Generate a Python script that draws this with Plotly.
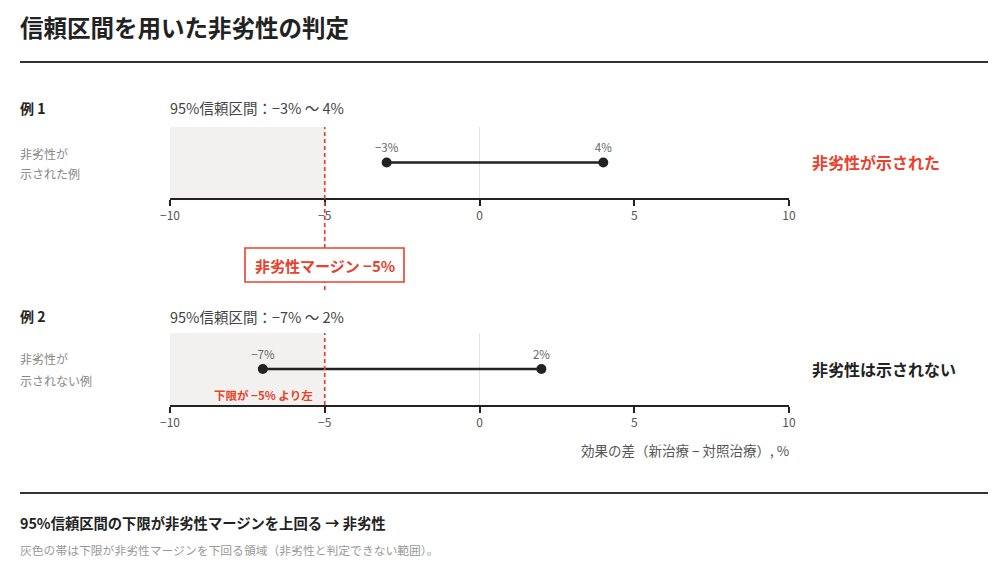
import plotly.graph_objects as go

# ---- data ----
examples = ["例 1", "例 2"]
ci_low = [-3, -7]
ci_high = [4, 2]
margin_value = -5
tick_vals = [-10, -5, 0, 5, 10]
ci_titles = ["95%信頼区間：−3% 〜 4%", "95%信頼区間：−7% 〜 2%"]
side_line1 = ["非劣性が", "非劣性が"]
side_line2 = ["示された例", "示されない例"]
verdicts = ["非劣性が示された", "非劣性は示されない"]
low_labels = ["−3%", "−7%"]
high_labels = ["4%", "2%"]

W, H = 1000, 565
RED = "#e8412c"
DARK = "#222222"
FONT = "Noto Sans CJK JP"


def py(pix):
    return 1 - pix / H


def px(pix):
    return pix / W


x_left, x_right = 170, 789
rows = [(127, 198), (333, 405)]

fig = go.Figure()

for i in range(2):
    xa = "x" if i == 0 else "x2"
    ya = "y" if i == 0 else "y2"
    fig.add_trace(go.Scatter(
        x=[ci_low[i], ci_high[i]], y=[0.5, 0.5],
        mode="lines+markers+text",
        line=dict(color=DARK, width=2.5),
        marker=dict(color=DARK, size=10),
        text=[low_labels[i], high_labels[i]],
        textposition="top center",
        textfont=dict(family=FONT, size=11.5, color="#666666"),
        xaxis=xa, yaxis=ya, showlegend=False, hoverinfo="skip", cliponaxis=False,
    ))

axis_common = dict(
    range=[-10, 10], tickvals=tick_vals, showgrid=False, zeroline=False,
    showline=True, linecolor=DARK, linewidth=2, ticks="outside", ticklen=6,
    tickwidth=1.5, tickcolor=DARK, fixedrange=True, automargin=False,
    tickfont=dict(family=FONT, size=12, color="#555555"),
    domain=[px(x_left), px(x_right)],
)
yaxis_common = dict(range=[0, 1], visible=False, fixedrange=True, automargin=False)

fig.update_layout(
    width=W, height=H,
    margin=dict(l=0, r=0, t=0, b=0, pad=0, autoexpand=False),
    paper_bgcolor="white", plot_bgcolor="white",
    font=dict(family=FONT, color=DARK),
    xaxis=dict(axis_common, anchor="y"),
    yaxis=dict(yaxis_common, domain=[py(rows[0][1]), py(rows[0][0])], anchor="x"),
    xaxis2=dict(axis_common, anchor="y2"),
    yaxis2=dict(yaxis_common, domain=[py(rows[1][1]), py(rows[1][0])], anchor="x2"),
)

shapes = []
for i in range(2):
    xr = "x" if i == 0 else "x2"
    yr = "y" if i == 0 else "y2"
    shapes.append(dict(type="rect", xref=xr, yref=yr, x0=-10, x1=margin_value, y0=0, y1=1,
                       fillcolor="#f2f1ef", line=dict(width=0), layer="below"))
    shapes.append(dict(type="line", xref=xr, yref=yr, x0=0, x1=0, y0=0, y1=1,
                       line=dict(color="#e3e3e3", width=1), layer="below"))

shapes.append(dict(type="line", xref="x", yref="paper", x0=margin_value, x1=margin_value,
                   y0=py(290), y1=py(127), line=dict(color=RED, width=1.7, dash="4px,3px")))
shapes.append(dict(type="line", xref="x2", yref="paper", x0=margin_value, x1=margin_value,
                   y0=py(405), y1=py(333), line=dict(color=RED, width=1.7, dash="4px,3px")))
shapes.append(dict(type="rect", xref="paper", yref="paper", x0=px(245), x1=px(404),
                   y0=py(282), y1=py(248), fillcolor="white", line=dict(color=RED, width=1.6)))
shapes.append(dict(type="line", xref="paper", yref="paper", x0=px(20), x1=px(988),
                   y0=py(62), y1=py(62), line=dict(color="#333333", width=1.8)))
shapes.append(dict(type="line", xref="paper", yref="paper", x0=px(20), x1=px(988),
                   y0=py(493), y1=py(493), line=dict(color="#333333", width=1.8)))
fig.update_layout(shapes=shapes)


def ann(text, x, y, size, color, bold=False, xanchor="left", yanchor="middle"):
    t = f"<b>{text}</b>" if bold else text
    return dict(text=t, x=x, y=py(y), xref="paper", yref="paper", showarrow=False,
                xanchor=xanchor, yanchor=yanchor, borderpad=0, borderwidth=0,
                font=dict(family=FONT, size=size, color=color))


annotations = [
    ann("信頼区間を用いた非劣性の判定", px(20), 27, 23.5, DARK, bold=True),
    ann("非劣性マージン −5%", px(325), 265, 15, RED, bold=True, xanchor="center"),
    ann("下限が −5% より左", px(313), 395, 11.5, RED, bold=True, xanchor="right"),
    ann("効果の差（新治療 − 対照治療）, %", px(789), 450, 13.5, "#555555", xanchor="right"),
    ann("95%信頼区間の下限が非劣性マージンを上回る → 非劣性", px(20), 522, 14.3, DARK, bold=True),
    ann("灰色の帯は下限が非劣性マージンを下回る領域（非劣性と判定できない範囲）。",
        px(20), 549, 11.8, "#999999"),
]
row_label_y = [108, 316]
side_y1 = [153, 358]
side_y2 = [173, 380]
verdict_y = [162, 369]
verdict_colors = [RED, DARK]
for i in range(2):
    annotations.append(ann(examples[i], px(20), row_label_y[i], 14, DARK, bold=True))
    annotations.append(ann(ci_titles[i], px(170), row_label_y[i], 14.5, "#444444"))
    annotations.append(ann(side_line1[i], px(20), side_y1[i], 12, "#888888"))
    annotations.append(ann(side_line2[i], px(20), side_y2[i], 12, "#888888"))
    annotations.append(ann(verdicts[i], px(812), verdict_y[i], 16, verdict_colors[i], bold=True))

fig.update_layout(annotations=annotations)

fig.write_html(
    "out.html",
    config={"displayModeBar": False},
    post_script="document.body.style.margin='0';document.body.style.overflow='hidden';",
)
